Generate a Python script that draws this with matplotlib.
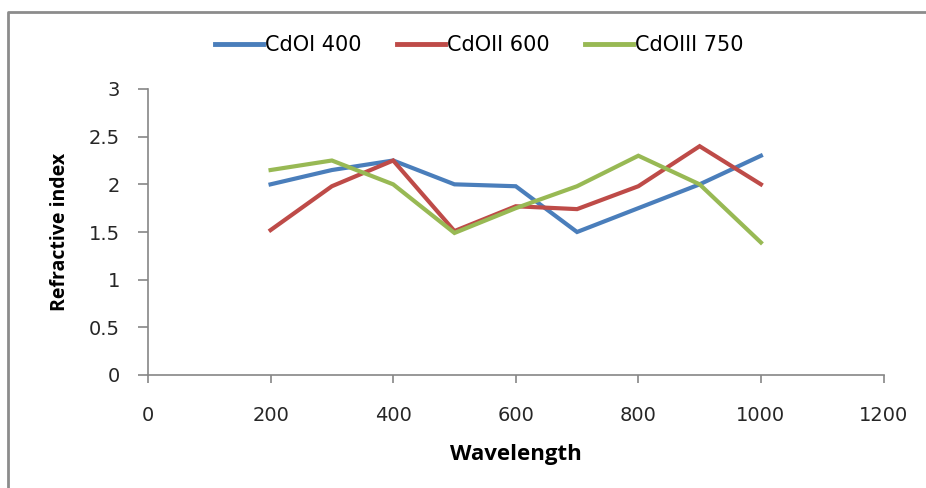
import matplotlib.pyplot as plt
from matplotlib.lines import Line2D

plt.rcParams['font.family'] = ['DejaVu Sans']

# 屈折率データ
wavelength = [200, 300, 400, 500, 600, 700, 800, 900, 1000]
cdo_i_400 = [2.0, 2.15, 2.25, 2.0, 1.98, 1.5, 1.75, 2.0, 2.3]
cdo_ii_600 = [1.52, 1.98, 2.25, 1.51, 1.77, 1.74, 1.98, 2.4, 2.0]
cdo_iii_750 = [2.15, 2.25, 2.0, 1.49, 1.75, 1.98, 2.3, 2.0, 1.39]

series_names = ['CdOI 400', 'CdOII 600', 'CdOIII 750']
series_colors = ['#4a7ebb', '#be4b48', '#98b954']

fig = plt.figure(figsize=(9.26, 4.88), dpi=100)

# 外枠の左辺と上辺
fx, fy = 8 / 926, 1 - 12 / 488
fig.add_artist(Line2D([fx, fx, 1.05], [-0.05, fy, fy], transform=fig.transFigure,
                      color='#8c8c8c', linewidth=2, clip_on=False))

ax = fig.add_axes([148 / 926, 1 - 375 / 488, (883.5 - 148) / 926, (375 - 89) / 488])

for ys, name, c in zip([cdo_i_400, cdo_ii_600, cdo_iii_750], series_names, series_colors):
    ax.plot(wavelength, ys, color=c, linewidth=3, label=name, solid_joinstyle='miter')

ax.set_xlim(0, 1200)
ax.set_ylim(0, 3)
ax.set_xticks(range(0, 1201, 200))
ax.set_yticks([0, 0.5, 1, 1.5, 2, 2.5, 3])
ax.set_yticklabels(['0', '0.5', '1', '1.5', '2', '2.5', '3'])

for s in ['top', 'right']:
    ax.spines[s].set_visible(False)
for s in ['left', 'bottom']:
    ax.spines[s].set_color('#868686')
    ax.spines[s].set_linewidth(1.2)

ax.tick_params(axis='y', direction='out', length=7, width=1.2, color='#868686',
               labelsize=14, labelcolor='#262626', pad=13)
ax.tick_params(axis='x', direction='out', length=6, width=1.2, color='#868686',
               labelsize=14, labelcolor='#262626', pad=16)

ax.set_xlabel('Wavelength', fontsize=16, fontweight='bold', labelpad=14,
              family='Open Sans')
ax.set_ylabel('Refractive index', fontsize=14, fontweight='bold', labelpad=14,
              family='Open Sans')

leg = fig.legend(loc='center', bbox_to_anchor=(479 / 926, 1 - 45 / 488), ncol=3,
                 frameon=False, fontsize=15, handlelength=2.3, handletextpad=0.1,
                 columnspacing=1.7)
for line in leg.get_lines():
    line.set_linewidth(3.5)

fig.savefig('out.png', dpi=100)
